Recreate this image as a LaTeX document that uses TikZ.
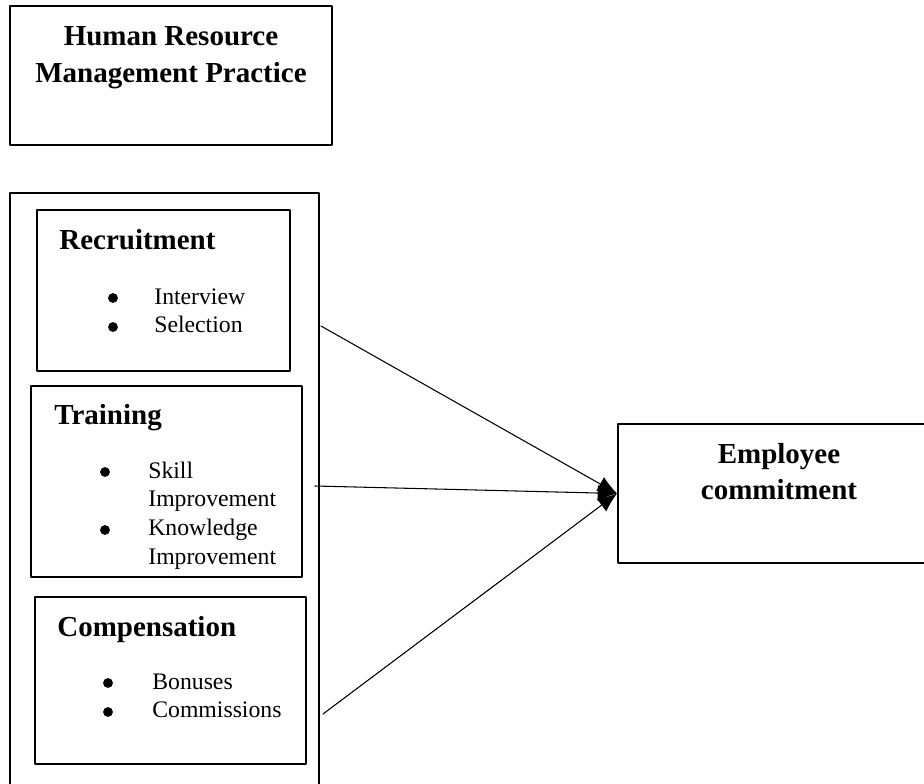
\documentclass[tikz,border=0pt]{standalone}
\usepackage{fontspec}
\setmainfont{Liberation Serif}
\usetikzlibrary{arrows.meta}

\begin{document}
\begin{tikzpicture}[x=0.02cm,y=-0.02cm,line cap=round,line join=round,
  box/.style={draw,line width=1.1pt,inner sep=0pt},
  head/.style={anchor=base west,inner sep=0pt,font=\fontsize{16.5}{21}\selectfont\bfseries},
  items/.style={anchor=base west,inner sep=0pt,font=\fontsize{13.5}{16.5}\selectfont},
  arr/.style={line width=0.6pt,-{Latex[length=11pt,width=9pt]}}]
  \useasboundingbox (0,0) rectangle (924,784);
  \clip (0,0) rectangle (924,784);
  % boxes
  \node[box,minimum width=6.44cm,minimum height=2.78cm] (hrm) at (171,75.5) {};
  \node[box,minimum width=6.18cm,minimum height=12.34cm] (practice) at (164.5,501.5) {};
  \node[box,minimum width=5.06cm,minimum height=3.22cm] (recruit) at (163.5,290.5) {};
  \node[box,minimum width=5.42cm,minimum height=3.82cm] (training) at (166.5,481.5) {};
  \node[box,minimum width=5.42cm,minimum height=3.34cm] (compens) at (170.5,680.5) {};
  \node[box,minimum width=6.44cm,minimum height=2.78cm] (commit) at (779,493.5) {};
  % titles
  \node[head,anchor=base] (hrmtext) at (171,46)
    {\begin{tabular}[t]{@{}c@{}}Human Resource\\Management Practice\end{tabular}};
  \node[head,anchor=base] (committext) at (779,463)
    {\begin{tabular}[t]{@{}c@{}}Employee\\commitment\end{tabular}};
  \node[head] (recruithead) at (59,250) {Recruitment};
  \node[head] (traininghead) at (54,424) {Training};
  \node[head] (compenshead) at (57,636) {Compensation};
  % bullet lists
  \node[items] (recruititems) at (154,304)
    {\begin{tabular}[t]{@{}l@{}}Interview\\Selection\end{tabular}};
  \node[items] (trainingitems) at (148,478)
    {\begin{tabular}[t]{@{}l@{}}Skill\\Improvement\\Knowledge\\Improvement\end{tabular}};
  \node[items] (compensitems) at (152,689)
    {\begin{tabular}[t]{@{}l@{}}Bonuses\\Commissions\end{tabular}};
  \foreach \x/\y in {113/298,113/327,105/472,105/530,108/683,108/712}
    \fill (\x,\y) circle (2.8pt);
  % arrows
  \coordinate (from1) at (321,326);
  \coordinate (from2) at (315,486);
  \coordinate (from3) at (323,714);
  \draw[arr] (from1) -- (commit.west);
  \draw[arr] (from2) -- (commit.west);
  \draw[arr] (from3) -- (commit.west);
\end{tikzpicture}
\end{document}
